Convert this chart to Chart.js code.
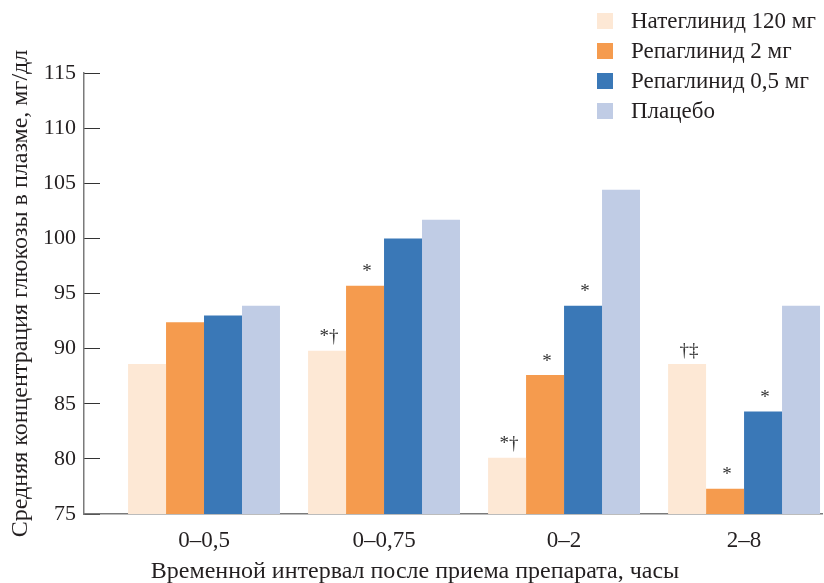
<!DOCTYPE html>
<html lang="ru">
<head>
<meta charset="UTF-8">
<title>Глюкоза в плазме по интервалам</title>
<script src="https://cdn.jsdelivr.net/npm/chart.js@4.4.0/dist/chart.umd.min.js"></script>
<style>
  html, body { margin: 0; padding: 0; background: #fff; }
  #wrap { width: 824px; height: 583px; }
</style>
</head>
<body>
<div id="wrap"><canvas id="chart" width="824" height="583"></canvas></div>
<script>
const categories = ['0–0,5', '0–0,75', '0–2', '2–8'];
const seriesNames = ['Натеглинид 120 мг', 'Репаглинид 2 мг', 'Репаглинид 0,5 мг', 'Плацебо'];
const nateglinide = [88.6, 89.8, 80.1, 88.6];
const repaglinide2 = [92.4, 95.7, 87.6, 77.3];
const repaglinide05 = [93.0, 100.0, 93.9, 84.3];
const placebo = [93.9, 101.7, 104.4, 93.9];
// significance marks above bars, per series
const nateglinideMarks = ['', '*†', '*†', '†‡'];
const repaglinide2Marks = ['', '*', '*', '*'];
const repaglinide05Marks = ['', '', '*', '*'];
const placeboMarks = ['', '', '', ''];
const yTicks = [75, 80, 85, 90, 95, 100, 105, 110, 115];
const xTitle = 'Временной интервал после приема препарата, часы';
const yTitle = 'Средняя концентрация глюкозы в плазме, мг/дл';

const colors = ['#fde8d5', '#f59b4e', '#3a78b7', '#c0cce5'];
const FONT = "'Liberation Serif', 'DejaVu Serif', serif";
const TEXT = '#231f20';

const seriesValues = [nateglinide, repaglinide2, repaglinide05, placebo];
const seriesMarks = [nateglinideMarks, repaglinide2Marks, repaglinide05Marks, placeboMarks];

const datasets = seriesValues.map((vals, s) => ({
  label: seriesNames[s],
  data: vals.map((v, i) => ({ x: i, y: v })),
  backgroundColor: colors[s],
  borderWidth: 0,
  categoryPercentage: 0.844,
  barPercentage: 1
}));

const extras = {
  id: 'extras',
  afterDatasetsDraw(chart) {
    const ctx = chart.ctx;
    ctx.save();
    ctx.fillStyle = '#333';
    ctx.font = '19px ' + FONT;
    ctx.textAlign = 'center';
    ctx.textBaseline = 'bottom';
    chart.data.datasets.forEach((ds, s) => {
      chart.getDatasetMeta(s).data.forEach((bar, i) => {
        const m = seriesMarks[s][i];
        if (m) ctx.fillText(m, bar.x + 2, bar.y - 4);
      });
    });
    ctx.restore();
  },
  afterDraw(chart) {
    const ctx = chart.ctx;
    ctx.save();
    // legend
    ctx.font = '23px ' + FONT;
    ctx.textBaseline = 'middle';
    ctx.textAlign = 'left';
    seriesNames.forEach((name, i) => {
      const cy = 21 + i * 30;
      ctx.fillStyle = colors[i];
      ctx.fillRect(597, cy - 8, 16, 16);
      ctx.fillStyle = TEXT;
      ctx.fillText(name, 631, cy + 1);
    });
    // x axis title
    ctx.font = '24px ' + FONT;
    ctx.textAlign = 'center';
    ctx.fillText(xTitle, 415, 572);
    ctx.restore();
  }
};

new Chart(document.getElementById('chart'), {
  type: 'bar',
  data: { datasets },
  options: {
    responsive: false,
    animation: false,
    devicePixelRatio: 1,
    layout: { padding: { top: 73, right: 2, left: 0, bottom: 0 } },
    plugins: { legend: { display: false }, tooltip: { enabled: false } },
    scales: {
      x: {
        type: 'linear',
        offset: false,
        min: -0.6667,
        max: 3.433,
        afterBuildTicks: sc => { sc.ticks = categories.map((c, i) => ({ value: i })); },
        afterFit: sc => { sc.height = 69; },
        ticks: {
          callback: v => categories[v],
          font: { family: FONT, size: 23 },
          color: TEXT,
          padding: 13,
          maxRotation: 0,
          autoSkip: false
        },
        grid: { display: false, drawTicks: false, offset: false },
        border: { color: '#7a7a7a', width: 1.5 }
      },
      y: {
        min: 75,
        max: 115,
        afterBuildTicks: sc => { sc.ticks = yTicks.map(v => ({ value: v })); },
        afterFit: sc => { sc.width = 84; },
        ticks: {
          font: { family: FONT, size: 22 },
          color: TEXT,
          padding: 24
        },
        grid: { drawOnChartArea: false, drawTicks: true, tickLength: -16, color: '#333', lineWidth: 1 },
        border: { color: '#7a7a7a', width: 1.5 },
        title: {
          display: true,
          text: yTitle,
          font: { family: FONT, size: 24 },
          color: TEXT,
          padding: { top: 6, bottom: 0 }
        }
      }
    }
  },
  plugins: [extras]
});
</script>
</body>
</html>
